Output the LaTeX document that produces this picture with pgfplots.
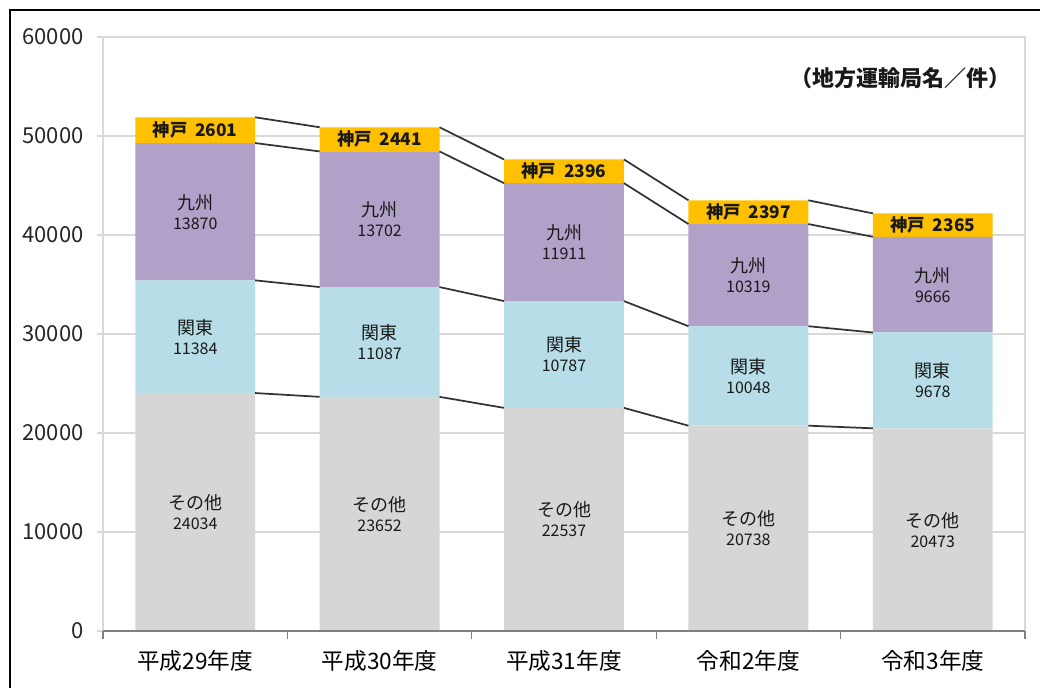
\documentclass[border=0pt]{standalone}
\usepackage{fontspec}
\setmainfont{Noto Sans CJK JP}
\usepackage{pgfplots}
\pgfplotsset{compat=1.18}
\definecolor{kobe}{HTML}{FFC000}
\definecolor{kyushu}{HTML}{B1A0C7}
\definecolor{kanto}{HTML}{B7DEE8}
\definecolor{other}{HTML}{D6D6D6}
\definecolor{gridc}{HTML}{D9D9D9}
\begin{document}
\begin{tikzpicture}
\path[use as bounding box] (0,0) rectangle (780pt,516pt);
\draw[line width=1.5pt] (7.3pt,-20pt) -- (7.3pt,508.5pt) -- (800pt,508.5pt);
\pgfplotsset{base/.style={
  at={(77.25pt,42.75pt)}, anchor=south west, scale only axis,
  width=691.5pt, height=445.5pt,
  xmin=-0.5, xmax=4.5, ymin=0, ymax=60000,
  /pgf/number format/1000 sep={},
  /pgf/number format/assume math mode=true,
}}
\begin{axis}[base,
  ybar stacked, bar width=0.65,
  xtick={0,1,2,3,4},
  xticklabels={平成29年度,平成30年度,平成31年度,令和2年度,令和3年度},
  ytick={0,10000,...,60000},
  scaled y ticks=false,
  ymajorgrids, major grid style={draw=gridc, line width=0.8pt},
  axis line style={draw=gridc, line width=0.8pt},
  xtick pos=bottom, ytick pos=left,
  xtick style={draw=none},
  ytick style={draw=gridc, line width=0.8pt},
  tick align=outside, major tick length=4.5pt,
  xticklabel style={font=\fontsize{17}{17}\selectfont, anchor=center, yshift=-18pt},
  yticklabel style={font=\fontsize{16.5}{16.5}\selectfont, anchor=east, xshift=-6.5pt, text=black!85},
]
\addplot[fill=other, draw=none] coordinates {(0,24034) (1,23652) (2,22537) (3,20738) (4,20473)};
\addplot[fill=kanto, draw=none] coordinates {(0,11384) (1,11087) (2,10787) (3,10048) (4,9678)};
\addplot[fill=kyushu, draw=none] coordinates {(0,13870) (1,13702) (2,11911) (3,10319) (4,9666)};
\addplot[fill=kobe, draw=none] coordinates {(0,2601) (1,2441) (2,2396) (3,2397) (4,2365)};
\end{axis}
\begin{axis}[base,
  axis x line*=bottom, axis y line=none,
  x axis line style={draw=gray, line width=1pt},
  xtick={-0.5,0.5,...,4.5}, xticklabels={},
  xtick style={draw=gray, line width=1pt},
  tick align=outside, major tick length=6pt,
  ytick=\empty,
  clip=false,
  nodes near coords style={anchor=center, align=center, text=black!90, inner sep=0pt},
]
% series lines between bars
\addplot[black!80, line width=1.3pt, mark=none, unbounded coords=jump] coordinates {
 (0.325,24034) (0.675,23652) (1,nan) (1.325,23652) (1.675,22537) (2,nan)
 (2.325,22537) (2.675,20738) (3,nan) (3.325,20738) (3.675,20473)};
\addplot[black!80, line width=1.3pt, mark=none, unbounded coords=jump] coordinates {
 (0.325,35418) (0.675,34739) (1,nan) (1.325,34739) (1.675,33324) (2,nan)
 (2.325,33324) (2.675,30786) (3,nan) (3.325,30786) (3.675,30151)};
\addplot[black!80, line width=1.3pt, mark=none, unbounded coords=jump] coordinates {
 (0.325,49288) (0.675,48441) (1,nan) (1.325,48441) (1.675,45235) (2,nan)
 (2.325,45235) (2.675,41105) (3,nan) (3.325,41105) (3.675,39817)};
\addplot[black!80, line width=1.3pt, mark=none, unbounded coords=jump] coordinates {
 (0.325,51889) (0.675,50882) (1,nan) (1.325,50882) (1.675,47631) (2,nan)
 (2.325,47631) (2.675,43502) (3,nan) (3.325,43502) (3.675,42182)};
% segment labels
\addplot[draw=none, mark=none, point meta=explicit,
  nodes near coords={\fontsize{13.5}{13.5}\selectfont その他\\[3pt]\fontsize{12}{12}\selectfont\pgfmathprintnumber{\pgfplotspointmeta}}]
  coordinates {(0,12017)[24034] (1,11826)[23652] (2,11268.5)[22537] (3,10369)[20738] (4,10236.5)[20473]};
\addplot[draw=none, mark=none, point meta=explicit,
  nodes near coords={\fontsize{13.5}{13.5}\selectfont 関東\\[3pt]\fontsize{12}{12}\selectfont\pgfmathprintnumber{\pgfplotspointmeta}}]
  coordinates {(0,29726)[11384] (1,29195.5)[11087] (2,27930.5)[10787] (3,25762)[10048] (4,25312)[9678]};
\addplot[draw=none, mark=none, point meta=explicit,
  nodes near coords={\fontsize{13.5}{13.5}\selectfont 九州\\[3pt]\fontsize{12}{12}\selectfont\pgfmathprintnumber{\pgfplotspointmeta}}]
  coordinates {(0,42353)[13870] (1,41590)[13702] (2,39279.5)[11911] (3,35945.5)[10319] (4,34984)[9666]};
\addplot[draw=none, mark=none, point meta=explicit,
  nodes near coords={\fontsize{13}{13}\selectfont\bfseries 神戸\hspace{0.45em}\pgfmathprintnumber{\pgfplotspointmeta}}]
  coordinates {(0,50588.5)[2601] (1,49661.5)[2441] (2,46433)[2396] (3,42303.5)[2397] (4,40999.5)[2365]};
\node[font=\bfseries\fontsize{16.5}{16.5}\selectfont, text=black!90] at (rel axis cs:0.8655,0.931) {（地方運輸局名／件）};
\end{axis}
\end{tikzpicture}
\end{document}
